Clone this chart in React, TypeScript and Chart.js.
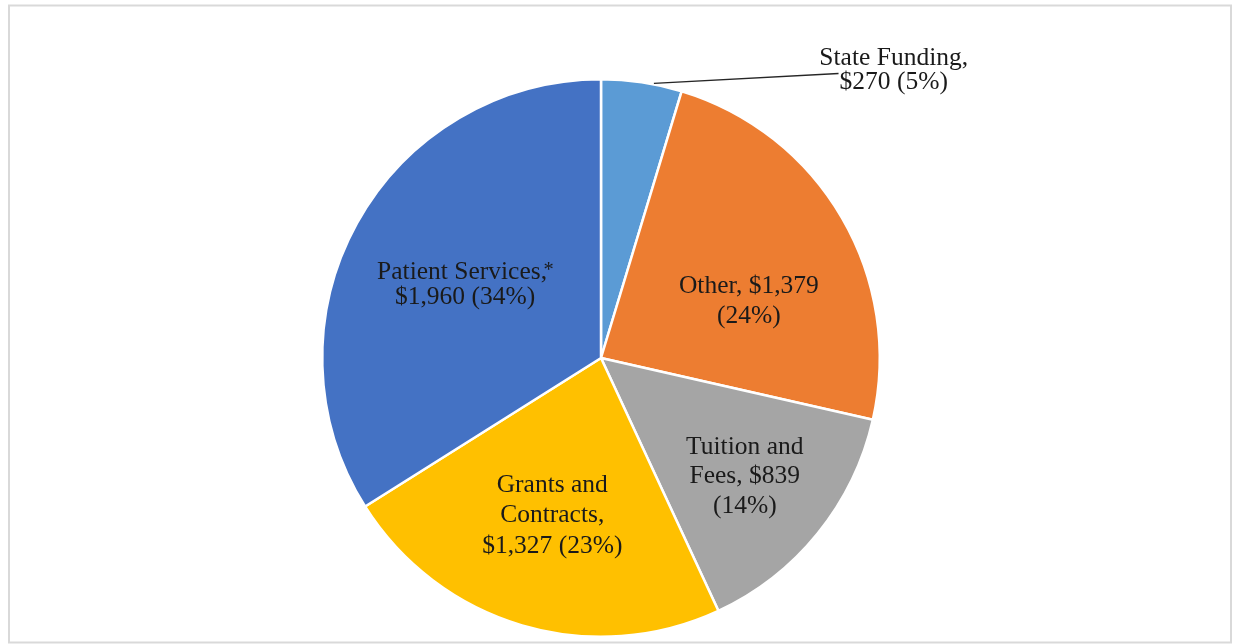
import { useEffect, useRef } from "react";
import { Chart, registerables } from "chart.js";

Chart.register(...registerables);

const categories = ["State Funding", "Other", "Tuition and Fees", "Grants and Contracts", "Patient Services"];
const values = [270, 1379, 839, 1327, 1960];
const percentLabels = ["5%", "24%", "14%", "23%", "34%"];
const sliceColors = ["#5B9BD5", "#ED7D31", "#A5A5A5", "#FFC000", "#4472C4"];
const footnoteMark = "*";

const money = values.map((v) => "$" + v.toLocaleString("en-US"));
const pct = percentLabels.map((p) => `(${p})`);

const labelLines: string[][] = [
  ["State Funding,", `${money[0]} ${pct[0]}`],
  [`Other, ${money[1]}`, pct[1]],
  ["Tuition and", `Fees, ${money[2]}`, pct[2]],
  ["Grants and", "Contracts,", `${money[3]} ${pct[3]}`],
  ["Patient Services,", `${money[4]} ${pct[4]}`],
];
const footnoteOnLine = [-1, -1, -1, -1, 0];

// label placement relative to each arc (angle offset in degrees from the slice mid-angle, radius as fraction of outer radius)
const labelLayout = [
  { angleOffset: 36.9, radius: 1.477, lineHeight: 24, leader: true },
  { angleOffset: 8.5, radius: 0.571, lineHeight: 30, leader: false },
  { angleOffset: 0.2, radius: 0.665, lineHeight: 29.5, leader: false },
  { angleOffset: 0.9, radius: 0.586, lineHeight: 30.5, leader: false },
  { angleOffset: 0, radius: 0.557, lineHeight: 25, leader: false },
];

const FONT_SIZE = 25.5;
const CAP = FONT_SIZE * 0.662;
const FONT = `${FONT_SIZE}px "Liberation Serif", "Times New Roman", serif`;
const SUP_FONT = `${FONT_SIZE * 0.8}px "Liberation Serif", "Times New Roman", serif`;

const labelPlugin = {
  id: "sliceLabels",
  beforeDraw(chart: any) {
    const ctx = chart.ctx;
    ctx.save();
    ctx.fillStyle = "#ffffff";
    ctx.fillRect(0, 0, chart.width, chart.height);
    ctx.restore();
  },
  afterDraw(chart: any) {
    const ctx = chart.ctx as CanvasRenderingContext2D;
    const meta = chart.getDatasetMeta(0);
    ctx.save();
    // outer frame
    ctx.strokeStyle = "#d9d9d9";
    ctx.lineWidth = 2;
    ctx.strokeRect(9, 5.5, chart.width - 11, chart.height - 7);

    ctx.fillStyle = "#1a1a1a";
    ctx.textBaseline = "alphabetic";
    meta.data.forEach((arc: any, i: number) => {
      const p = arc.getProps(["x", "y", "startAngle", "endAngle", "outerRadius"], true);
      const lay = labelLayout[i];
      const lines = labelLines[i];
      const mid = (p.startAngle + p.endAngle) / 2 + (lay.angleOffset * Math.PI) / 180;
      const cx = p.x + Math.cos(mid) * p.outerRadius * lay.radius;
      const cy = p.y + Math.sin(mid) * p.outerRadius * lay.radius;
      const n = lines.length;
      const b1 = cy + CAP / 2 - ((n - 1) * lay.lineHeight) / 2;
      lines.forEach((line, k) => {
        const by = b1 + k * lay.lineHeight;
        ctx.font = FONT;
        if (footnoteOnLine[i] === k) {
          const w = ctx.measureText(line).width;
          ctx.font = SUP_FONT;
          const ws = ctx.measureText(footnoteMark).width;
          const left = cx - (w + ws * 0.6) / 2;
          ctx.font = FONT;
          ctx.textAlign = "left";
          ctx.fillText(line, left, by);
          ctx.font = SUP_FONT;
          ctx.fillText(footnoteMark, left + w - ws * 0.35, by - 3);
        } else {
          ctx.textAlign = "center";
          ctx.fillText(line, cx, by);
        }
      });
      if (lay.leader) {
        ctx.font = FONT;
        const a = p.startAngle + 0.65 * (p.endAngle - p.startAngle);
        const sx = p.x + Math.cos(a) * p.outerRadius;
        const sy = p.y + Math.sin(a) * p.outerRadius - 1;
        const w2 = ctx.measureText(lines[n - 1]).width;
        const ex = cx - w2 / 2 - 1;
        const ey = cy + 5;
        ctx.strokeStyle = "#262626";
        ctx.lineWidth = 1.3;
        ctx.beginPath();
        ctx.moveTo(sx, sy);
        ctx.lineTo(ex, ey);
        ctx.stroke();
      }
    });
    ctx.restore();
  },
};

export default function App() {
  const ref = useRef<HTMLCanvasElement | null>(null);
  useEffect(() => {
    if (!ref.current) return;
    const chart = new Chart(ref.current, {
      type: "pie",
      data: {
        labels: categories,
        datasets: [
          {
            data: values,
            backgroundColor: sliceColors,
            borderColor: "#ffffff",
            borderWidth: 2.5,
          },
        ],
      },
      options: {
        animation: false,
        responsive: true,
        maintainAspectRatio: false,
        layout: { padding: { top: 78, bottom: 6, left: 321, right: 352 } },
        plugins: {
          legend: { display: false },
          tooltip: { enabled: false },
        },
      },
      plugins: [labelPlugin],
    });
    return () => chart.destroy();
  }, []);
  return (
    <div style={{ position: "fixed", left: 0, top: 0, width: 1233, height: 644 }}>
      <canvas ref={ref} />
    </div>
  );
}
